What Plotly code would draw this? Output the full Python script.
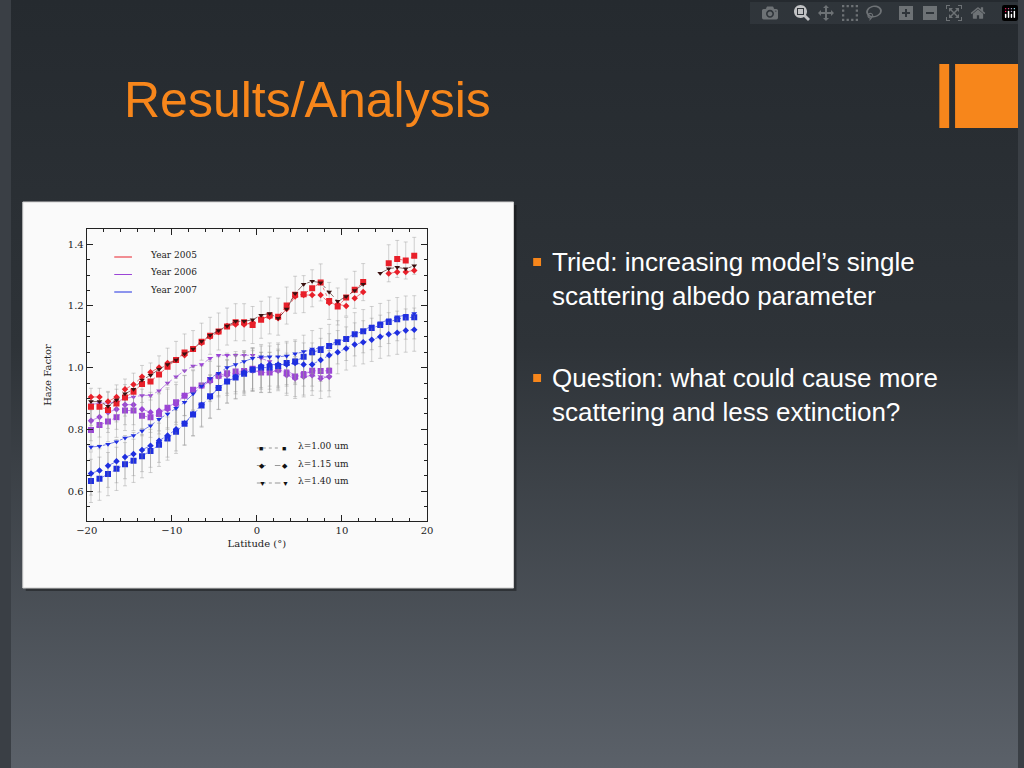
import plotly.graph_objects as go

lat = [-19.5 + i for i in range(39)]
lat06 = lat[:29]

r_sq = [0.873,0.873,0.863,0.884,0.903,0.922,0.947,0.955,0.978,1.003,1.025,1.049,1.06,1.084,1.103,1.117,1.133,1.147,1.147,1.138,1.155,1.169,1.165,1.201,1.236,1.238,1.257,1.276,1.216,1.198,1.227,1.252,1.277,None,None,1.338,1.352,1.347,1.362]
r_di = [0.905,0.905,0.89,0.905,0.93,0.945,0.97,0.985,1.0,1.015,1.025,1.04,1.06,1.08,1.1,1.115,1.135,1.14,1.14,1.145,1.16,1.165,1.16,1.19,1.23,1.235,1.235,1.235,1.21,1.205,1.2,1.225,1.245,None,None,1.305,1.31,1.31,1.315]
r_tr = [0.89,0.89,0.875,0.895,0.915,0.93,0.96,0.975,0.995,1.01,1.025,1.045,1.06,1.085,1.105,1.12,1.135,1.15,1.15,1.155,1.17,1.175,1.16,1.19,1.24,1.27,1.28,1.275,1.245,1.215,1.23,1.25,1.27,None,1.306,1.32,1.325,1.32,1.33]

p_sq = [0.798,0.814,0.825,0.839,0.861,0.861,0.844,0.839,0.85,0.87,0.888,0.909,0.928,0.942,0.96,0.974,0.982,0.987,0.989,0.996,0.984,0.984,0.995,0.982,0.971,0.976,0.99,0.989,0.99]
p_di = [0.828,0.84,0.855,0.865,0.88,0.88,0.865,0.855,0.86,0.865,0.88,0.91,0.925,0.94,0.955,0.97,0.975,0.98,0.985,0.99,0.985,0.985,0.99,0.975,0.965,0.97,0.975,0.965,0.97]
p_tr = [0.88,0.885,0.885,0.89,0.9,0.905,0.91,0.91,0.925,0.95,0.97,0.99,1.005,1.01,1.03,1.04,1.04,1.04,1.04,1.04,1.03,1.02,1.0,0.99,0.975,0.985,0.985,0.97,0.97]

b_sq = [0.633,0.64,0.655,0.672,0.687,0.698,0.713,0.73,0.75,0.77,0.792,0.818,0.848,0.877,0.907,0.934,0.955,0.968,0.98,0.993,1.0,1.0,1.005,1.015,1.02,1.035,1.05,1.057,1.07,1.082,1.093,1.108,1.118,1.128,1.138,1.148,1.157,1.162,1.163]
b_di = [0.657,0.667,0.682,0.697,0.71,0.72,0.733,0.747,0.763,0.78,0.8,0.82,0.85,0.88,0.905,0.935,0.955,0.97,0.985,0.995,1.005,1.01,1.01,1.01,1.015,1.01,1.01,1.025,1.04,1.05,1.062,1.075,1.082,1.09,1.1,1.108,1.113,1.12,1.123]
b_tr = [0.743,0.745,0.752,0.76,0.772,0.78,0.795,0.812,0.833,0.85,0.868,0.888,0.915,0.94,0.965,0.982,1.0,1.01,1.02,1.03,1.035,1.035,1.035,1.038,1.045,1.052,1.06,1.065,1.075,1.085,1.095,1.11,1.12,1.135,1.145,1.155,1.165,1.17,1.175]

err05 = [0.06]*39
err06 = [0.065]*29
err07 = [0.07]*39

x_ticks = [-20, -10, 0, 10, 20]
y_ticks = [0.6, 0.8, 1.0, 1.2, 1.4]

fig = go.Figure()

def add(x, y, color, sym, dash, size, err=None):
    fig.add_trace(go.Scatter(
        x=x, y=y, mode="lines+markers",
        line=dict(color=color, width=0.6, dash=dash),
        marker=dict(symbol=sym, color=color, size=size),
        error_y=dict(type="data", array=err, color="rgba(150,150,150,0.6)", thickness=0.7, width=2) if err else None,
        showlegend=False, connectgaps=False))

RED, PUR, BLU = "#e8202a", "#9b45d6", "#1f2fe0"
add(lat06, p_sq, PUR, "square", "dot", 6, err06)
add(lat06, p_di, PUR, "diamond", "dash", 5, err06)
add(lat06, p_tr, PUR, "triangle-down", "dashdot", 5)
add(lat, b_sq, BLU, "square", "dot", 6, err07)
add(lat, b_di, BLU, "diamond", "dash", 5, err07)
add(lat, b_tr, BLU, "triangle-down", "dashdot", 5)
add(lat, r_sq, RED, "square", "dot", 6, err05)
add(lat, r_di, RED, "diamond", "dash", 5)
add(lat, r_tr, "#3a1010", "triangle-down", "dashdot", 5)

TF = dict(family="DejaVu Serif", size=10, color="#222")
ax = dict(showgrid=False, zeroline=False, showline=True, linecolor="#222", linewidth=1, mirror="allticks",
          ticks="inside", ticklen=6, tickcolor="#222", tickfont=TF)
fig.update_layout(
    width=1024, height=768, margin=dict(l=0, r=0, t=0, b=0),
    paper_bgcolor="#3a3f45", plot_bgcolor="#fafafa",
    xaxis=dict(ax, domain=[0.0752, 0.4131], range=[-20, 20], tickvals=x_ticks, minor=dict(ticks="inside", ticklen=3, dtick=2, tickcolor="#222"),
               title=dict(text="Latitude (°)", font=TF, standoff=4)),
    yaxis=dict(ax, domain=[0.3216, 0.7018], range=[0.503, 1.449], tickvals=y_ticks, tickformat=".1f",
               minor=dict(ticks="inside", ticklen=3, dtick=0.05, tickcolor="#222"),
               title=dict(text="Haze Factor", font=TF, standoff=14)),
)

grad = ("data:image/svg+xml;utf8,<svg xmlns='http://www.w3.org/2000/svg' width='10' height='10' preserveAspectRatio='none'>"
        "<defs><linearGradient id='g' x1='0' y1='0' x2='0' y2='1'><stop offset='0' stop-color='%23252a2f'/>"
        "<stop offset='0.45' stop-color='%232e3338'/><stop offset='1' stop-color='%235b6169'/></linearGradient></defs>"
        "<rect width='10' height='10' fill='url(%23g)'/></svg>")
fig.add_layout_image(source=grad, xref="paper", yref="paper", x=0, y=1, sizex=1, sizey=1,
                     sizing="stretch", layer="below", xanchor="left", yanchor="top")

W, H = 1024, 768
def px(x): return x / W
def py(y): return 1 - y / H

fig.add_shape(type="rect", xref="paper", yref="paper", x0=px(15), x1=px(514), y0=py(591), y1=py(205),
              fillcolor="rgba(0,0,0,0.35)", line_width=0, layer="below")
fig.add_shape(type="rect", xref="paper", yref="paper", x0=px(12), x1=px(511), y0=py(588), y1=py(202),
              fillcolor="#fafafa", line=dict(color="#cfcfcf", width=1), layer="below")
fig.add_shape(type="rect", xref="paper", yref="paper", x0=px(944), x1=px(954), y0=py(128), y1=py(64),
              fillcolor="#f7861b", line_width=0)
fig.add_shape(type="rect", xref="paper", yref="paper", x0=px(960), x1=px(1024), y0=py(128), y1=py(64),
              fillcolor="#f7861b", line_width=0)

fig.add_annotation(text="Results/Analysis", xref="paper", yref="paper", x=px(113), y=py(100),
                   xanchor="left", yanchor="middle", showarrow=False,
                   font=dict(family="Liberation Sans", size=50, color="#f7861b"))

for i, (lbl, c) in enumerate([("Year 2005", RED), ("Year 2006", PUR), ("Year 2007", BLU)]):
    yy = 257 + i * 17.5
    fig.add_shape(type="line", xref="paper", yref="paper", x0=px(105), x1=px(123), y0=py(yy), y1=py(yy),
                  line=dict(color=c, width=1))
    fig.add_annotation(text=lbl, xref="paper", yref="paper", x=px(139), y=py(yy - 2), xanchor="left",
                       yanchor="middle", showarrow=False, font=dict(family="DejaVu Serif", size=9, color="#222"))
for i, (lbl, sym, dash) in enumerate([("λ=1.00 um", "■", "dot"), ("λ=1.15 um", "◆", "dash"), ("λ=1.40 um", "▼", "dashdot")]):
    yy = 448 + i * 17.5
    fig.add_shape(type="line", xref="paper", yref="paper", x0=px(250), x1=px(274), y0=py(yy), y1=py(yy),
                  line=dict(color="#555", width=0.6, dash=dash))
    for xx in (250, 274):
        fig.add_annotation(text=sym, xref="paper", yref="paper", x=px(xx), y=py(yy), showarrow=False,
                           yanchor="middle", font=dict(size=7, color="#111"))
    fig.add_annotation(text=lbl, xref="paper", yref="paper", x=px(290), y=py(yy - 2), xanchor="left",
                       yanchor="middle", showarrow=False, font=dict(family="DejaVu Serif", size=9, color="#222"))

bul = dict(family="Liberation Sans", size=26, color="white")
for yb, lines in [(262, ["Tried: increasing model’s single", "scattering albedo parameter"]),
                  (378, ["Question: what could cause more", "scattering and less extinction?"])]:
    fig.add_shape(type="rect", xref="paper", yref="paper", x0=px(531), x1=px(539), y0=py(yb + 4), y1=py(yb - 4),
                  fillcolor="#f7861b", line_width=0)
    for j, t in enumerate(lines):
        fig.add_annotation(text=t, xref="paper", yref="paper", x=px(548), y=py(yb + j * 34),
                           xanchor="left", yanchor="middle", showarrow=False, font=bul)

fig.write_html("out.html", post_script="document.body.style.margin='0';document.body.style.overflow='hidden';")
